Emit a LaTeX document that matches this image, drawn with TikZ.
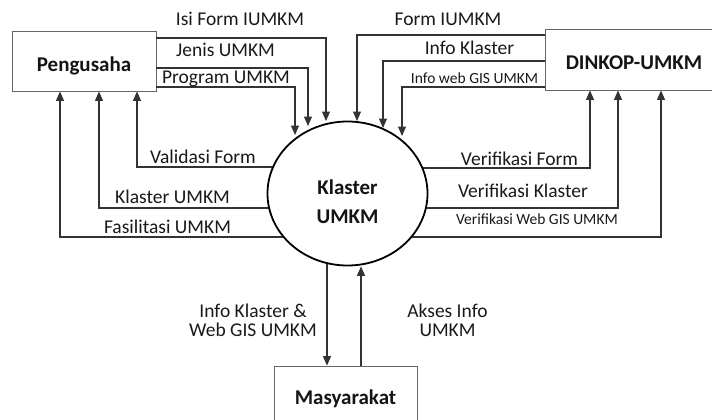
\documentclass[tikz,border=0pt]{standalone}
\usepackage{fontspec}
\setmainfont{Carlito}
\usetikzlibrary{arrows.meta,shapes.geometric}
\pgfdeclarelayer{bg}
\pgfsetlayers{bg,main}
\begin{document}
\begin{tikzpicture}[x=1pt,y=-1pt,
  box/.style={draw=black!60, line width=0.9pt, inner sep=0pt, text=black!92,
    font=\bfseries\fontsize{21}{24}\selectfont},
  flow/.style={draw=black!80, line width=1.1pt, -{Triangle[length=9.5pt,width=8pt]}},
  lbl/.style={inner sep=0pt, anchor=base, text=black!90, font=\fontsize{19.5}{21}\selectfont},
  slbl/.style={inner sep=0pt, anchor=base, text=black!90, font=\fontsize{15.5}{18}\selectfont},
  mlbl/.style={inner sep=0pt, anchor=north, align=center, text=black!90, font=\fontsize{19.5}{19.5}\selectfont}]
\useasboundingbox (0,0) rectangle (712,420);

% entities
\node[box, minimum width=144pt, minimum height=60pt, text height=22pt, text depth=0pt] (peng) at (84,61) {Pengusaha};
\node[box, minimum width=178pt, minimum height=61pt, text height=21pt, text depth=0pt] (dink) at (634,59.5) {DINKOP-UMKM};
\node[box, minimum width=143pt, minimum height=62pt, text height=14pt, text depth=0pt] (masy) at (345.5,397) {Masyarakat};

% process
\node[ellipse, draw=black, fill=white, line width=1.8pt, minimum width=160pt, minimum height=144pt, inner sep=0pt] (klas) at (347.5,193.5) {};
\node[inner sep=0pt, align=center, text=black!92, font=\bfseries\fontsize{21}{29}\selectfont] (klastxt) at (347.5,201.5) {Klaster\\UMKM};

% arrow tips above the process
\coordinate (t1) at (326,121);
\coordinate (t2) at (308,126);
\coordinate (t3) at (295,135);
\coordinate (t4) at (357,121);
\coordinate (t5) at (383,128);
\coordinate (t6) at (402,136);

% Pengusaha -> process
\draw[flow] (peng.east |- 0,38) -| (t1);
\draw[flow] (peng.east |- 0,68) -| (t2);
\draw[flow] (peng.east |- 0,87) -| (t3);
% DINKOP -> process
\draw[flow] (dink.west |- 0,35) -| (t4);
\draw[flow] (dink.west |- 0,61) -| (t5);
\draw[flow] (dink.west |- 0,87) -| (t6);

\begin{pgfonlayer}{bg}
% process -> Pengusaha
\draw[flow] (klas.center |- 0,167) -| (peng.south -| 137,0);
\draw[flow] (klas.center |- 0,208) -| (peng.south -| 99,0);
\draw[flow] (klas.center |- 0,237) -| (peng.south -| 60,0);
% process -> DINKOP
\draw[flow] (klas.center |- 0,168) -| (dink.south -| 590,0);
\draw[flow] (klas.center |- 0,208) -| (dink.south -| 618,0);
\draw[flow] (klas.center |- 0,237) -| (dink.south -| 661,0);
% process <-> Masyarakat
\draw[flow] (klas.center -| 327,0) -- (masy.north -| 327,0);
\end{pgfonlayer}
\draw[flow] (masy.north -| 361,0) -- (klas.south -| 361,0);

% labels
\node[lbl] (l1) at (240,26) {Isi Form IUMKM};
\node[lbl] (l2) at (225.5,57) {Jenis UMKM};
\node[lbl] (l3) at (226,83) {Program UMKM};
\node[lbl] (l4) at (448,26) {Form IUMKM};
\node[lbl] (l5) at (469.5,55) {Info Klaster};
\node[slbl] (l6) at (474.5,83) {Info web GIS UMKM};
\node[lbl] (l7) at (203,163) {Validasi Form};
\node[lbl] (l8) at (172.5,203) {Klaster UMKM};
\node[lbl] (l9) at (167.5,233) {Fasilitasi UMKM};
\node[lbl] (l10) at (519.5,165) {Verifikasi Form};
\node[lbl] (l11) at (523,197) {Verifikasi Klaster};
\node[slbl] (l12) at (537,224) {Verifikasi Web GIS UMKM};
\node[mlbl] (l13) at (253,303.5) {Info Klaster \&\\Web GIS UMKM};
\node[mlbl] (l14) at (447.5,303.5) {Akses Info\\UMKM};
\end{tikzpicture}
\end{document}
